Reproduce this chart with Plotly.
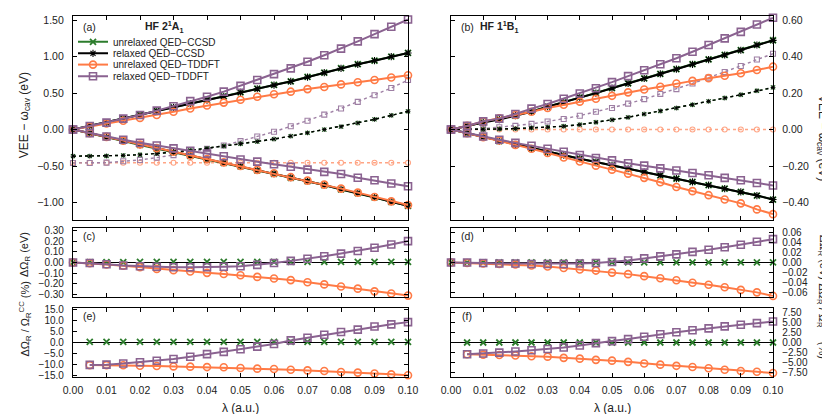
import plotly.graph_objects as go

# Сетка по lambda (a.u.)
lam = [0.0, 0.005, 0.01, 0.015, 0.02, 0.025, 0.03, 0.035, 0.04, 0.045, 0.05,
       0.055, 0.06, 0.065, 0.07, 0.075, 0.08, 0.085, 0.09, 0.095, 0.1]
lam_pct = lam[1:]

# (a) HF 2^1A1, VEE - w_cav (eV)
a_ccsd_unrel_up = [0, 0.05, 0.096, 0.151, 0.201, 0.256, 0.306, 0.356, 0.407, 0.457, 0.512,
                   0.562, 0.612, 0.662, 0.722, 0.782, 0.842, 0.897, 0.947, 1.002, 1.052]
a_ccsd_unrel_lo = [0, -0.05, -0.105, -0.156, -0.211, -0.261, -0.311, -0.361, -0.411, -0.456, -0.506,
                   -0.561, -0.606, -0.661, -0.706, -0.761, -0.821, -0.871, -0.931, -0.991, -1.046]
a_ccsd_unrel_mid = [-0.365, -0.365, -0.362, -0.355, -0.345, -0.33, -0.31, -0.285, -0.26, -0.225, -0.195,
                    -0.165, -0.13, -0.09, -0.045, 0.0, 0.04, 0.09, 0.14, 0.195, 0.25]
a_ccsd_rel_up = [0, 0.05, 0.095, 0.15, 0.20, 0.255, 0.305, 0.355, 0.405, 0.455, 0.51,
                 0.56, 0.61, 0.66, 0.72, 0.78, 0.84, 0.895, 0.945, 1.0, 1.05]
a_ccsd_rel_lo = [0, -0.05, -0.105, -0.155, -0.21, -0.26, -0.31, -0.36, -0.41, -0.455, -0.505,
                 -0.56, -0.605, -0.66, -0.705, -0.76, -0.82, -0.87, -0.93, -0.99, -1.045]
a_ccsd_rel_mid = [-0.365, -0.365, -0.362, -0.355, -0.345, -0.33, -0.31, -0.285, -0.26, -0.225, -0.195,
                  -0.165, -0.13, -0.09, -0.045, 0.0, 0.04, 0.09, 0.14, 0.195, 0.25]
a_tddft_unrel_up = [0, 0.04, 0.085, 0.12, 0.16, 0.20, 0.245, 0.29, 0.33, 0.37, 0.41,
                    0.45, 0.485, 0.52, 0.555, 0.585, 0.62, 0.65, 0.68, 0.715, 0.745]
a_tddft_unrel_lo = [0, -0.05, -0.10, -0.152, -0.205, -0.255, -0.305, -0.355, -0.405, -0.45, -0.50,
                    -0.553, -0.60, -0.653, -0.70, -0.755, -0.81, -0.865, -0.925, -0.985, -1.035]
a_tddft_unrel_mid = [-0.455, -0.455, -0.455, -0.455, -0.455, -0.455, -0.455, -0.455, -0.455, -0.455, -0.455,
                     -0.455, -0.455, -0.455, -0.455, -0.455, -0.455, -0.455, -0.455, -0.455, -0.455]
a_tddft_rel_up = [0, 0.05, 0.095, 0.15, 0.20, 0.26, 0.32, 0.39, 0.45, 0.52, 0.60,
                  0.68, 0.76, 0.84, 0.93, 1.02, 1.11, 1.21, 1.31, 1.41, 1.51]
a_tddft_rel_lo = [0, -0.05, -0.095, -0.14, -0.18, -0.218, -0.258, -0.29, -0.33, -0.367, -0.41,
                  -0.44, -0.475, -0.51, -0.55, -0.58, -0.61, -0.66, -0.695, -0.74, -0.777]
a_tddft_rel_mid = [-0.458, -0.458, -0.454, -0.435, -0.417, -0.385, -0.35, -0.31, -0.265, -0.218, -0.159,
                   -0.095, -0.03, 0.045, 0.12, 0.205, 0.29, 0.38, 0.47, 0.57, 0.68]

# (b) HF 1^1B1, VEE - w_cav (eV)
b_ccsd_unrel_up = [0, 0.02, 0.039, 0.056, 0.077, 0.099, 0.126, 0.15, 0.177, 0.201, 0.228,
                   0.254, 0.281, 0.306, 0.332, 0.359, 0.385, 0.41, 0.436, 0.465, 0.49]
b_ccsd_unrel_lo = [0, -0.02, -0.042, -0.064, -0.084, -0.104, -0.124, -0.14, -0.16, -0.178, -0.196,
                   -0.215, -0.233, -0.251, -0.269, -0.287, -0.305, -0.324, -0.342, -0.362, -0.384]
b_ccsd_unrel_mid = [0, 0.0, 0.001, 0.003, 0.005, 0.009, 0.013, 0.018, 0.027, 0.04, 0.053,
                    0.067, 0.085, 0.102, 0.118, 0.136, 0.155, 0.173, 0.191, 0.213, 0.231]
b_ccsd_rel_up = [0, 0.02, 0.038, 0.055, 0.076, 0.098, 0.125, 0.149, 0.176, 0.20, 0.227,
                 0.253, 0.28, 0.305, 0.331, 0.358, 0.384, 0.409, 0.435, 0.464, 0.489]
b_ccsd_rel_lo = [0, -0.02, -0.042, -0.064, -0.084, -0.104, -0.124, -0.14, -0.16, -0.178, -0.196,
                 -0.215, -0.233, -0.251, -0.269, -0.287, -0.305, -0.324, -0.342, -0.362, -0.384]
b_ccsd_rel_mid = [0, 0.0, 0.001, 0.003, 0.005, 0.009, 0.013, 0.018, 0.027, 0.04, 0.053,
                  0.067, 0.085, 0.102, 0.118, 0.136, 0.155, 0.173, 0.191, 0.213, 0.231]
b_tddft_unrel_up = [0, 0.02, 0.045, 0.062, 0.08, 0.098, 0.118, 0.136, 0.153, 0.169, 0.185,
                    0.204, 0.22, 0.235, 0.253, 0.267, 0.282, 0.295, 0.309, 0.327, 0.345]
b_tddft_unrel_lo = [0, -0.02, -0.042, -0.06, -0.084, -0.105, -0.129, -0.153, -0.175, -0.198, -0.22,
                    -0.242, -0.265, -0.289, -0.315, -0.338, -0.36, -0.384, -0.405, -0.438, -0.464]
b_tddft_unrel_mid = [0, 0, 0, 0, 0, 0, 0, 0, 0, 0, 0, 0, 0, 0, 0, 0, 0, 0, 0, 0, 0]
b_tddft_rel_up = [0, 0.02, 0.045, 0.06, 0.085, 0.115, 0.14, 0.169, 0.198, 0.227, 0.26,
                  0.293, 0.325, 0.358, 0.391, 0.427, 0.464, 0.50, 0.536, 0.576, 0.613]
b_tddft_rel_lo = [0, -0.02, -0.038, -0.056, -0.073, -0.089, -0.105, -0.122, -0.14, -0.156, -0.169,
                  -0.185, -0.198, -0.213, -0.225, -0.238, -0.251, -0.265, -0.278, -0.293, -0.307]
b_tddft_rel_mid = [0, 0.002, 0.005, 0.013, 0.02, 0.031, 0.044, 0.058, 0.076, 0.098, 0.118,
                   0.142, 0.167, 0.196, 0.222, 0.253, 0.285, 0.316, 0.349, 0.384, 0.416]

# (c), (d) dOmega_R (eV)
c_ccsd_unrel = [0.0, 0.003, 0.004, 0.004, 0.005, 0.005, 0.005, 0.005, 0.005, 0.005, 0.006,
                0.006, 0.006, 0.006, 0.006, 0.006, 0.006, 0.006, 0.006, 0.006, 0.006]
c_tddft_unrel = [0, -0.006, -0.018, -0.03, -0.044, -0.06, -0.072, -0.085, -0.097, -0.108, -0.12,
                 -0.135, -0.15, -0.165, -0.185, -0.205, -0.225, -0.245, -0.27, -0.29, -0.31]
c_tddft_rel = [0, -0.005, -0.016, -0.028, -0.035, -0.04, -0.044, -0.045, -0.045, -0.04, -0.035,
               -0.022, -0.005, 0.015, 0.035, 0.058, 0.083, 0.108, 0.138, 0.168, 0.20]
d_ccsd_unrel = [0, 0.0002, 0.0003, 0.0003, 0.0004, 0.0004, 0.0004, 0.0004, 0.0004, 0.0004, 0.0004,
                0.0004, 0.0004, 0.0004, 0.0004, 0.0004, 0.0004, 0.0004, 0.0004, 0.0004, 0.0004]
d_tddft_unrel = [0, -0.001, -0.002, -0.003, -0.004, -0.006, -0.008, -0.011, -0.014, -0.016, -0.02,
                 -0.023, -0.027, -0.031, -0.035, -0.04, -0.044, -0.049, -0.054, -0.059, -0.066]
d_tddft_rel = [0, 0, -0.001, -0.002, -0.002, -0.003, -0.003, -0.003, -0.002, -0.001, 0.001,
               0.004, 0.008, 0.012, 0.016, 0.021, 0.025, 0.03, 0.035, 0.041, 0.046]

# (e), (f) dOmega_R / Omega_R^CC (%)
e_ccsd_unrel = [0.3, 0.3, 0.3, 0.3, 0.3, 0.3, 0.3, 0.3, 0.3, 0.3,
                0.3, 0.3, 0.3, 0.3, 0.3, 0.3, 0.3, 0.3, 0.3, 0.3]
e_tddft_unrel = [-10.2, -10.2, -10.3, -10.5, -10.6, -10.8, -10.9, -11.1, -11.2, -11.5,
                 -11.8, -12.0, -12.3, -12.6, -12.9, -13.3, -13.6, -14.0, -14.4, -14.8]
e_tddft_rel = [-10.1, -10.0, -9.5, -8.9, -8.2, -7.4, -6.4, -5.2, -4.2, -3.0,
               -1.8, -0.6, 1.0, 2.2, 3.6, 4.8, 5.9, 7.3, 8.3, 9.3]
f_ccsd_unrel = [0.05, 0.05, 0.05, 0.05, 0.05, 0.05, 0.05, 0.05, 0.05, 0.05,
                0.05, 0.05, 0.05, 0.05, 0.05, 0.05, 0.05, 0.05, 0.05, 0.05]
f_tddft_unrel = [-2.9, -3.0, -3.1, -3.2, -3.4, -3.5, -3.8, -4.0, -4.3, -4.5,
                 -4.8, -5.2, -5.5, -5.8, -6.1, -6.4, -6.8, -7.1, -7.3, -7.6]
f_tddft_rel = [-2.9, -2.7, -2.5, -2.2, -1.9, -1.6, -1.2, -0.7, -0.1, 0.4,
               0.9, 1.5, 2.1, 2.6, 3.1, 3.6, 4.1, 4.5, 4.9, 5.3]

names = ['unrelaxed QED\u2212CCSD', 'relaxed QED\u2212CCSD',
         'unrelaxed QED\u2212TDDFT', 'relaxed QED\u2212TDDFT']

GREEN = '#2c7c2c'
BLACK = '#000000'
ORANGE = '#ff7a45'
PURPLE = '#8a6290'
ORANGE_L = '#ffa585'
PURPLE_L = '#9e7fa4'

# стиль для каждого метода: (цвет, символ, размер маркера, толщина контура)
style = {
    0: (GREEN, 'x-thin-open', 6, 1.8),
    1: (BLACK, 'asterisk-open', 6, 1.1),
    2: (ORANGE, 'circle-open', 7, 1.6),
    3: (PURPLE, 'square-open', 7, 1.6),
}
style_mid = {
    0: (GREEN, 'x-thin-open', 4, 1.2),
    1: (BLACK, 'asterisk-open', 4, 0.9),
    2: (ORANGE_L, 'circle-open', 5, 1.1),
    3: (PURPLE_L, 'square-open', 5, 1.1),
}

fig = go.Figure()


def solid(x, y, k, xa, ya, legend=None, lines=True):
    c, s, m, w = style[k]
    fig.add_trace(go.Scatter(
        x=x, y=y, xaxis=xa, yaxis=ya, name=names[k],
        mode='lines+markers' if lines else 'markers',
        line=dict(color=c, width=2),
        marker=dict(symbol=s, size=m, color=c, line=dict(color=c, width=w)),
        cliponaxis=False,
        showlegend=legend is not None,
        legend=legend if legend else 'legend',
    ))


def dotted(x, y, k, xa, ya):
    c, s, m, w = style_mid[k]
    fig.add_trace(go.Scatter(
        x=x, y=y, xaxis=xa, yaxis=ya, mode='lines+markers',
        line=dict(color=c, width=1.4, dash='dot'),
        marker=dict(symbol=s, size=m, color=c, line=dict(color=c, width=w)),
        cliponaxis=False, showlegend=False,
    ))


# Панель (a)
dotted(lam, a_tddft_unrel_mid, 2, 'x', 'y')
dotted(lam, a_tddft_rel_mid, 3, 'x', 'y')
dotted(lam, a_ccsd_unrel_mid, 0, 'x', 'y')
dotted(lam, a_ccsd_rel_mid, 1, 'x', 'y')
legs = ['legend', 'legend2', 'legend3', 'legend4']
a_up = [a_ccsd_unrel_up, a_ccsd_rel_up, a_tddft_unrel_up, a_tddft_rel_up]
a_lo = [a_ccsd_unrel_lo, a_ccsd_rel_lo, a_tddft_unrel_lo, a_tddft_rel_lo]
for k in range(4):
    solid(lam, a_up[k], k, 'x', 'y', legend=legs[k])
    solid(lam, a_lo[k], k, 'x', 'y')

# Панель (b)
dotted(lam, b_tddft_unrel_mid, 2, 'x2', 'y2')
dotted(lam, b_tddft_rel_mid, 3, 'x2', 'y2')
dotted(lam, b_ccsd_unrel_mid, 0, 'x2', 'y2')
dotted(lam, b_ccsd_rel_mid, 1, 'x2', 'y2')
b_up = [b_ccsd_unrel_up, b_ccsd_rel_up, b_tddft_unrel_up, b_tddft_rel_up]
b_lo = [b_ccsd_unrel_lo, b_ccsd_rel_lo, b_tddft_unrel_lo, b_tddft_rel_lo]
for k in range(4):
    solid(lam, b_up[k], k, 'x2', 'y2')
    solid(lam, b_lo[k], k, 'x2', 'y2')

# Панели (c)-(f)
solid(lam, c_ccsd_unrel, 0, 'x3', 'y3', lines=False)
solid(lam, c_tddft_unrel, 2, 'x3', 'y3')
solid(lam, c_tddft_rel, 3, 'x3', 'y3')
solid(lam, d_ccsd_unrel, 0, 'x4', 'y4', lines=False)
solid(lam, d_tddft_unrel, 2, 'x4', 'y4')
solid(lam, d_tddft_rel, 3, 'x4', 'y4')
solid(lam_pct, e_ccsd_unrel, 0, 'x5', 'y5', lines=False)
solid(lam_pct, e_tddft_unrel, 2, 'x5', 'y5')
solid(lam_pct, e_tddft_rel, 3, 'x5', 'y5')
solid(lam_pct, f_ccsd_unrel, 0, 'x6', 'y6', lines=False)
solid(lam_pct, f_tddft_unrel, 2, 'x6', 'y6')
solid(lam_pct, f_tddft_rel, 3, 'x6', 'y6')

FONT = 'Liberation Sans, Arial, sans-serif'
axis_common = dict(showline=True, linecolor='black', linewidth=1.3, mirror='allticks',
                   ticks='inside', ticklen=4, tickcolor='black', showgrid=False,
                   zeroline=False, tickfont=dict(size=10.5, color='#222'))

left_dom, right_dom = [0, 0.4786], [0.54, 1]
top_dom, mid_dom, bot_dom = [0.434, 1], [0.2225, 0.412], [0, 0.1923]


def xax(dom, anchor, labels):
    return dict(axis_common, domain=dom, anchor=anchor, range=[0, 0.1], dtick=0.01,
                tickformat='.2f', showticklabels=labels, ticklabelstandoff=3)


def yax(dom, anchor, rng, dtick, fmt, side='left', zero=False, fs=10.5):
    return dict(axis_common, domain=dom, anchor=anchor, range=rng, dtick=dtick,
                tickformat=fmt, side=side, ticklabelstandoff=6,
                tickfont=dict(size=fs, color='#222'),
                zeroline=zero, zerolinecolor='black', zerolinewidth=1.3)


fig.update_layout(
    width=830, height=414,
    margin=dict(l=65, r=65, t=5, b=45),
    paper_bgcolor='white', plot_bgcolor='white',
    font=dict(family=FONT, size=11, color='#222'),
    xaxis=xax(left_dom, 'y', False),
    xaxis2=xax(right_dom, 'y2', False),
    xaxis3=xax(left_dom, 'y3', False),
    xaxis4=xax(right_dom, 'y4', False),
    xaxis5=xax(left_dom, 'y5', True),
    xaxis6=xax(right_dom, 'y6', True),
    yaxis=yax(top_dom, 'x', [-1.245, 1.558], 0.5, '.2f'),
    yaxis2=yax(top_dom, 'x2', [-0.498, 0.623], 0.2, '.2f', side='right'),
    yaxis3=yax(mid_dom, 'x3', [-0.32, 0.32], 0.1, '.2f', zero=True, fs=10),
    yaxis4=yax(mid_dom, 'x4', [-0.0675, 0.0675], 0.02, '.2f', side='right', zero=True, fs=10),
    yaxis5=yax(bot_dom, 'x5', [-15.6, 15.9], 5, '.1f', zero=True, fs=10),
    yaxis6=yax(bot_dom, 'x6', [-8.6, 8.8], 2.5, '.2f', side='right', zero=True, fs=10),
)

# легенда: по одной записи в каждой, чтобы строки шли плотно
leg_y = [0.9286, 0.8965, 0.8654, 0.8332]
for name, yy in zip(legs, leg_y):
    fig.update_layout({name: dict(x=0.0, y=yy, xanchor='left', yanchor='middle',
                                  bgcolor='rgba(0,0,0,0)', borderwidth=0,
                                  font=dict(size=10, family=FONT, color='#222'))})

ann = []
for txt, x, y in [('(a)', 0.0229, 0.9698), ('(b)', 0.5629, 0.9698),
                  ('(c)', 0.0229, 0.3901), ('(d)', 0.5629, 0.3901),
                  ('(e)', 0.0229, 0.1676), ('(f)', 0.5629, 0.1676),
                  ('<b>HF 2<sup>1</sup>A<sub>1</sub></b>', 0.1314, 0.9698),
                  ('<b>HF 1<sup>1</sup>B<sub>1</sub></b>', 0.6086, 0.9698)]:
    ann.append(dict(text=txt, x=x, y=y, xref='paper', yref='paper', showarrow=False,
                    xanchor='center', yanchor='middle', font=dict(size=10.5)))

# подписи осей Y: (текст, размер, y слева, y справа)
ytitles = [('VEE \u2212 \u03c9<sub>cav</sub> (eV)', 12, 0.7253, 0.662),
           ('\u0394\u03a9<sub>R</sub> (eV)', 11, 0.3407, 0.3324),
           ('\u0394\u03a9<sub>R</sub> / \u03a9<sub>R</sub><sup>CC</sup> (%)', 11, 0.162, 0.1566)]
for txt, fs, yl, yr in ytitles:
    ann.append(dict(text=txt, x=-0.0686, y=yl, xref='paper', yref='paper', showarrow=False,
                    textangle=-90, xanchor='center', yanchor='middle', font=dict(size=fs)))
    ann.append(dict(text=txt, x=1.0843, y=yr, xref='paper', yref='paper', showarrow=False,
                    textangle=90, xanchor='right', yanchor='middle', font=dict(size=fs)))

for xx in [0.2393, 0.77]:
    ann.append(dict(text='\u03bb (a.u.)', x=xx, y=-0.085, xref='paper', yref='paper',
                    showarrow=False, xanchor='center', yanchor='middle', font=dict(size=12)))

fig.update_layout(annotations=ann)

fig.write_html("out.html")
